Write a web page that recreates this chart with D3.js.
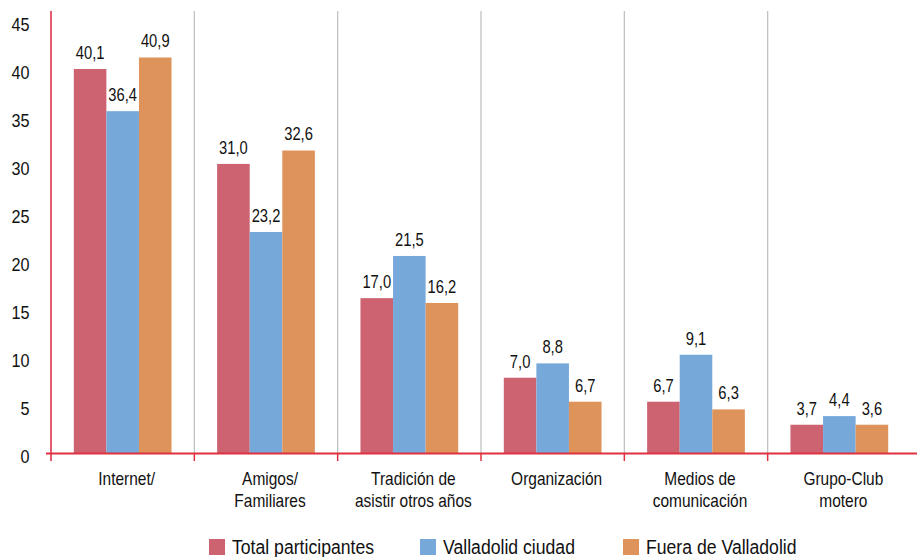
<!DOCTYPE html>
<html><head><meta charset="utf-8">
<script src="https://cdn.jsdelivr.net/npm/d3@7"></script>
<style>
html,body{margin:0;padding:0;background:#fff;}
svg{display:block;}
text{font-family:"Liberation Sans",Arial,sans-serif;fill:#111;}
</style></head>
<body>
<svg id="chart" width="917" height="557"></svg>
<script>
// Categories (multi-line labels)
const categories = ["Internet/", "Amigos/\nFamiliares", "Tradición de\nasistir otros años", "Organización", "Medios de\ncomunicación", "Grupo-Club\nmotero"];
const seriesNames = ["Total participantes", "Valladolid ciudad", "Fuera de Valladolid"];
const seriesColors = ["#CD6270", "#76A9DA", "#DE935A"];
// Bar heights as drawn in the picture
const totalValues = [40.1, 30.2, 16.2, 7.9, 5.4, 3.0];
const ciudadValues = [35.7, 23.1, 20.6, 9.4, 10.3, 3.9];
const fueraValues = [41.3, 31.6, 15.7, 5.4, 4.6, 3.0];
// Printed data labels
const totalLabels = [40.1, 31.0, 17.0, 7.0, 6.7, 3.7];
const ciudadLabels = [36.4, 23.2, 21.5, 8.8, 9.1, 4.4];
const fueraLabels = [40.9, 32.6, 16.2, 6.7, 6.3, 3.6];
const yTicks = [0, 5, 10, 15, 20, 25, 30, 35, 40, 45];

const values = [totalValues, ciudadValues, fueraValues];
const labels = [totalLabels, ciudadLabels, fueraLabels];

const svg = d3.select("#chart");
const left = 51, right = 911, base = 453.5;
const x0 = d3.scaleBand().domain(categories).range([left, right]).paddingInner(0).paddingOuter(0);
const x1 = d3.scaleBand().domain(seriesNames).range([0, x0.bandwidth()]).paddingInner(0).paddingOuter(0.7);
const y = d3.scaleLinear().domain([0, 45]).range([base, 22]);
const fmt = v => d3.format(".1f")(v).replace(".", ",");

// condensed text helper
function ctext(sel, x, yy, str, size, sx, anchor) {
  return sel.append("text")
    .attr("transform", `translate(${x},${yy}) scale(${sx},1)`)
    .attr("text-anchor", anchor || "middle")
    .attr("font-size", size)
    .text(str);
}

// gray vertical separators
svg.append("g").selectAll("line").data(categories.slice(1)).join("line")
  .attr("x1", d => x0(d)).attr("x2", d => x0(d))
  .attr("y1", 11).attr("y2", base)
  .attr("stroke", "#BDBDBD").attr("stroke-width", 1.2);

// bars + labels
const barG = svg.append("g");
const labelG = svg.append("g");
categories.forEach((c, ci) => {
  seriesNames.forEach((s, si) => {
    const v = values[si][ci];
    barG.append("rect")
      .attr("x", x0(c) + x1(s)).attr("width", x1.bandwidth())
      .attr("y", y(v)).attr("height", base - y(v))
      .attr("fill", seriesColors[si]);
    ctext(labelG, x0(c) + x1(s) + x1.bandwidth() / 2, y(v) - 10, fmt(labels[si][ci]), 18, 0.82);
  });
});

// y axis ticks via d3 axis
const sy = 0.9;
const yAxis = d3.axisLeft(y).tickValues(yTicks).tickSize(0).tickPadding(0).tickFormat(d3.format("d"));
const ya = svg.append("g").attr("transform", `translate(${left},0)`).call(yAxis);
ya.select(".domain").remove();
ya.selectAll(".tick text")
  .attr("x", null).attr("dy", null)
  .attr("transform", `translate(-21.5,8.5) scale(${sy},1)`)
  .attr("text-anchor", "end")
  .attr("font-size", 18)
  .style("font-family", "'Liberation Sans',Arial,sans-serif")
  .attr("fill", "#111");
svg.append("line").attr("x1", left).attr("x2", left).attr("y1", 11).attr("y2", 461)
  .attr("stroke", "#E35C6C").attr("stroke-width", 2);

// x baseline
svg.append("line").attr("x1", 46).attr("x2", 917).attr("y1", base).attr("y2", base)
  .attr("stroke", "#E0303F").attr("stroke-width", 2);
// red ticks at category boundaries
svg.append("g").selectAll("line").data(categories.slice(1)).join("line")
  .attr("x1", d => x0(d)).attr("x2", d => x0(d))
  .attr("y1", base).attr("y2", 461)
  .attr("stroke", "#E0303F").attr("stroke-width", 1.5);

// category labels
const catG = svg.append("g");
categories.forEach(c => {
  c.split("\n").forEach((line, i) => {
    ctext(catG, x0(c) + x0.bandwidth() / 2 + 4, 485 + i * 21.7, line, 18, 0.86);
  });
});

// legend
const legendX = [209, 420, 623];
const lg = svg.append("g");
seriesNames.forEach((s, i) => {
  lg.append("rect").attr("x", legendX[i]).attr("y", 539).attr("width", 16).attr("height", 16)
    .attr("fill", seriesColors[i]);
  ctext(lg, legendX[i] + 23, 554, s, 21, 0.84, "start");
});
</script>
</body></html>
